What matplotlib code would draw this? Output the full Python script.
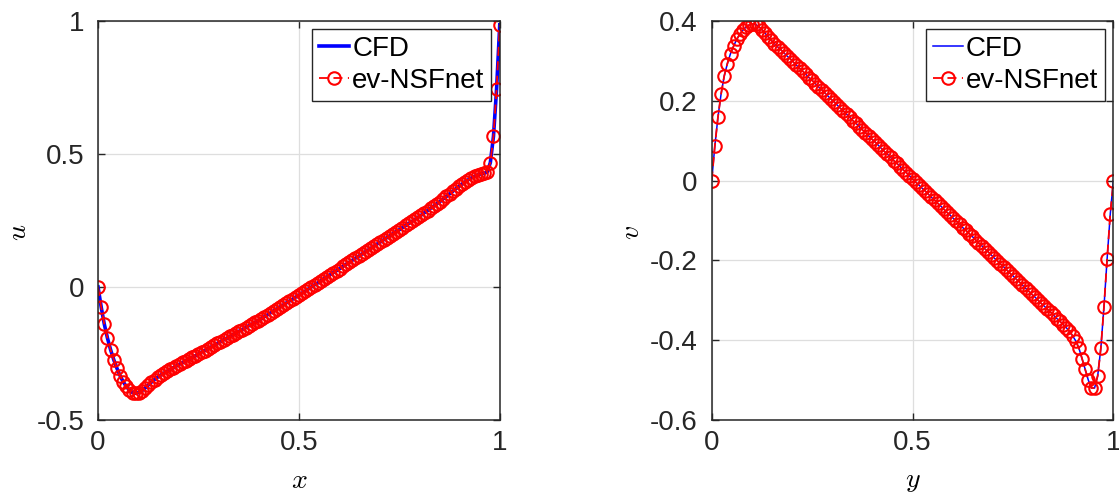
import numpy as np
import matplotlib
matplotlib.use('Agg')
import matplotlib.pyplot as plt

plt.rcParams['font.family'] = ['Liberation Sans', 'DejaVu Sans']
plt.rcParams['mathtext.fontset'] = 'cm'
plt.rcParams['axes.unicode_minus'] = False

# uniform grid of 129 sample points along the centre lines
n_grid = 129
grid = np.linspace(0.0, 1.0, n_grid)

# u along the horizontal centre line
u_cfd = [
    0.000, -0.075, -0.140, -0.192, -0.236, -0.273, -0.305, -0.333, -0.356, -0.374,
    -0.388, -0.397, -0.400, -0.397, -0.390, -0.380, -0.369, -0.358, -0.348, -0.339,
    -0.331, -0.324, -0.317, -0.310, -0.303, -0.297, -0.290, -0.284, -0.277, -0.271,
    -0.265, -0.259, -0.252, -0.245, -0.239, -0.232, -0.226, -0.219, -0.212, -0.206,
    -0.199, -0.193, -0.186, -0.179, -0.173, -0.166, -0.160, -0.153, -0.146, -0.140,
    -0.133, -0.127, -0.120, -0.112, -0.105, -0.097, -0.090, -0.083, -0.075, -0.068,
    -0.060, -0.053, -0.046, -0.038, -0.031, -0.023, -0.016, -0.008, 0.000, 0.008,
    0.015, 0.023, 0.031, 0.038, 0.046, 0.054, 0.061, 0.069, 0.077, 0.085,
    0.092, 0.100, 0.108, 0.115, 0.123, 0.131, 0.138, 0.146, 0.154, 0.162,
    0.169, 0.177, 0.185, 0.192, 0.200, 0.208, 0.215, 0.223, 0.231, 0.239,
    0.246, 0.254, 0.262, 0.270, 0.279, 0.287, 0.296, 0.304, 0.313, 0.321,
    0.331, 0.340, 0.350, 0.359, 0.369, 0.378, 0.387, 0.395, 0.403, 0.410,
    0.416, 0.421, 0.425, 0.427, 0.432, 0.467, 0.566, 0.745, 0.985,
]
u_nsf = list(u_cfd)

# v along the vertical centre line
v_cfd = [
    0.000, 0.086, 0.159, 0.217, 0.262, 0.293, 0.318, 0.337, 0.354, 0.367,
    0.377, 0.385, 0.390, 0.392, 0.391, 0.386, 0.378, 0.369, 0.360, 0.351,
    0.343, 0.335, 0.328, 0.320, 0.312, 0.305, 0.297, 0.289, 0.281, 0.274,
    0.266, 0.258, 0.251, 0.243, 0.235, 0.228, 0.220, 0.212, 0.204, 0.197,
    0.189, 0.181, 0.174, 0.166, 0.158, 0.150, 0.143, 0.135, 0.127, 0.120,
    0.112, 0.104, 0.097, 0.089, 0.081, 0.073, 0.066, 0.058, 0.050, 0.043,
    0.035, 0.027, 0.020, 0.012, 0.004, -0.004, -0.011, -0.019, -0.026, -0.034,
    -0.042, -0.049, -0.057, -0.064, -0.072, -0.080, -0.087, -0.095, -0.102, -0.110,
    -0.118, -0.125, -0.133, -0.140, -0.148, -0.156, -0.163, -0.171, -0.178, -0.186,
    -0.194, -0.201, -0.209, -0.216, -0.224, -0.232, -0.239, -0.247, -0.254, -0.262,
    -0.270, -0.277, -0.285, -0.292, -0.300, -0.308, -0.315, -0.323, -0.330, -0.338,
    -0.346, -0.353, -0.361, -0.369, -0.378, -0.389, -0.402, -0.420, -0.446, -0.473,
    -0.500, -0.520, -0.520, -0.489, -0.420, -0.316, -0.196, -0.084, 0.000,
]
v_nsf = list(v_cfd)

x_ticks = [0, 0.5, 1]
x_ticklabels = ['0', '0.5', '1']
u_ticks = [-0.5, 0, 0.5, 1]
u_ticklabels = ['-0.5', '0', '0.5', '1']
v_ticks = [-0.6, -0.4, -0.2, 0, 0.2, 0.4]
v_ticklabels = ['-0.6', '-0.4', '-0.2', '0', '0.2', '0.4']

axis_col = '#262626'
fs = 20

fig = plt.figure(figsize=(11.19, 4.97), dpi=100)
ax1 = fig.add_axes([0.0876, 0.155, 0.359, 0.803])
ax2 = fig.add_axes([0.636, 0.155, 0.359, 0.803])


def style(ax, yticks, ylabels, ylim, xlab, ylab):
    ax.set_xlim(0, 1)
    ax.set_ylim(*ylim)
    ax.set_xticks(x_ticks)
    ax.set_xticklabels(x_ticklabels)
    ax.set_yticks(yticks)
    ax.set_yticklabels(ylabels)
    ax.grid(True, color='#dedede', linewidth=0.9)
    ax.set_axisbelow(True)
    for s in ax.spines.values():
        s.set_color(axis_col)
        s.set_linewidth(1.1)
    ax.tick_params(direction='in', length=5, width=1.0, colors=axis_col,
                   labelcolor=axis_col, labelsize=fs, top=True, right=True)
    ax.tick_params(axis='x', pad=7)
    ax.tick_params(axis='y', pad=10)
    ax.set_xlabel(xlab, fontsize=fs)
    ax.set_ylabel(ylab, fontsize=fs)
    ax.xaxis.set_label_coords(0.5, -0.12)
    ax.yaxis.set_label_coords(-0.165, 0.47)


ax1.plot(grid, u_cfd, color='blue', linewidth=2.6, label='CFD')
ax1.plot(grid, u_nsf, color='red', linestyle='--', dashes=(5, 3), linewidth=1.3,
         marker='o', markersize=9, markerfacecolor='none', markeredgewidth=1.5,
         label='ev-NSFnet')
style(ax1, u_ticks, u_ticklabels, (-0.5, 1), '$x$', '$u$')

ax2.plot(grid, v_cfd, color='blue', linewidth=1.1, label='CFD')
ax2.plot(grid, v_nsf, color='red', linestyle='--', dashes=(5, 3), linewidth=1.3,
         marker='o', markersize=9, markerfacecolor='none', markeredgewidth=1.5,
         label='ev-NSFnet')
style(ax2, v_ticks, v_ticklabels, (-0.6, 0.4), '$y$', '$v$')

for ax in (ax1, ax2):
    leg = ax.legend(loc='upper right', fontsize=fs, fancybox=False, framealpha=1,
                    edgecolor=axis_col, borderpad=0.25, labelspacing=0.2,
                    handlelength=1.1, handletextpad=0.1, borderaxespad=0.3)
    leg.get_frame().set_linewidth(1.0)

fig.savefig('out.png', dpi=100)
